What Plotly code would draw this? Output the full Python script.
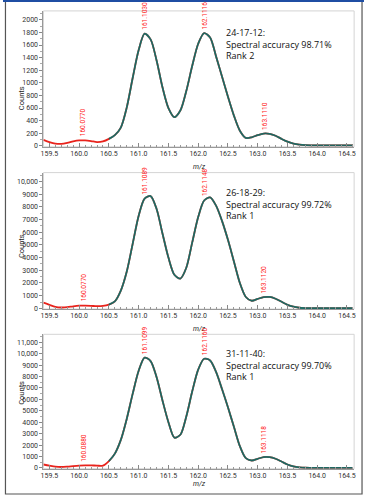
import numpy as np
import plotly.graph_objects as go

# ---------------- data ----------------
mz = [159.4, 159.5, 159.6, 159.7, 159.8, 159.9, 160.0, 160.1, 160.2, 160.3,
      160.4, 160.5, 160.6, 160.7, 160.8, 160.9, 161.0, 161.1, 161.2, 161.3,
      161.4, 161.5, 161.6, 161.7, 161.8, 161.9, 162.0, 162.1, 162.2, 162.3,
      162.4, 162.5, 162.6, 162.7, 162.8, 162.9, 163.0, 163.1, 163.2, 163.3,
      163.4, 163.5, 163.6, 163.7, 163.8, 163.9, 164.0, 164.1, 164.2, 164.3,
      164.4, 164.5, 164.6]

counts_24_17_12 = [95, 60, 35, 30, 45, 70, 85, 85, 75, 60,
                   70, 110, 170, 290, 610, 1080, 1520, 1780, 1690, 1360,
                   930, 600, 455, 560, 870, 1270, 1620, 1790, 1720, 1420,
                   1100, 780, 480, 240, 125, 135, 170, 195, 190, 160,
                   110, 65, 35, 18, 10, 8, 8, 8, 8, 8,
                   8, 8, 8]

counts_26_18_29 = [450, 280, 120, 70, 90, 160, 210, 220, 200, 170,
                   190, 300, 550, 1400, 2900, 5100, 7300, 8650, 8850, 7850,
                   5900, 4000, 2650, 2350, 3200, 5200, 7200, 8500, 8750, 8100,
                   6900, 5400, 3700, 2000, 900, 600, 750, 880, 900, 760,
                   520, 280, 130, 50, 20, 10, 10, 10, 10, 10,
                   10, 10, 10]

counts_31_11_40 = [300, 200, 110, 80, 110, 160, 200, 220, 220, 200,
                   200, 600, 1250, 2450, 4300, 6500, 8500, 9650, 9350, 7950,
                   5900, 4000, 2650, 2900, 4500, 6700, 8600, 9550, 9400, 8400,
                   6900, 5300, 3600, 1900, 850, 650, 800, 950, 940, 800,
                   560, 300, 130, 50, 15, 10, 10, 10, 10, 10,
                   10, 10, 10]

sample_ids = ["24-17-12:", "26-18-29:", "31-11-40:"]
spectral_accuracy = ["98.71%", "99.72%", "99.70%"]
ranks = ["2", "1", "1"]

peak_labels_24_17_12 = ["160.0770", "161.1030", "162.1116", "163.1110"]
peak_labels_26_18_29 = ["160.0770", "161.1089", "162.1148", "163.1120"]
peak_labels_31_11_40 = ["160.0880", "161.1099", "162.1160", "163.1118"]

x_tick_vals = [159.5, 160.0, 160.5, 161.0, 161.5, 162.0, 162.5, 163.0, 163.5, 164.0, 164.5]
x_tick_text = ["159.5", "160.0", "160.5", "161.0", "161.5", "162.0", "162.5",
               "163.0", "163.5", "164.0", "164.5"]

y_tick_vals_1 = [0, 200, 400, 600, 800, 1000, 1200, 1400, 1600, 1800, 2000]
y_tick_text_1 = ["0", "200", "400", "600", "800", "1000", "1200", "1400", "1600", "1800", "2000"]
y_tick_vals_2 = [0, 1000, 2000, 3000, 4000, 5000, 6000, 7000, 8000, 9000, 10000]
y_tick_text_2 = ["0", "1000", "2000", "3000", "4000", "5000", "6000", "7000", "8000", "9000", "10,000"]
y_tick_vals_3 = [0, 1000, 2000, 3000, 4000, 5000, 6000, 7000, 8000, 9000, 10000, 11000]
y_tick_text_3 = ["0", "1000", "2000", "3000", "4000", "5000", "6000", "7000", "8000", "9000",
                 "10,000", "11,000"]

# ---------------- layout helpers ----------------
W, H = 366, 500
FONT = "Roboto"
TEXT_FONT = "Open Sans"
RED = "#e8231c"
TEAL = "#23827a"

def py(px):
    return 1 - px / H

def pxx(px):
    return px / W

panels = [
    dict(counts=counts_24_17_12, labels=peak_labels_24_17_12, top=11, bottom=148,
         yr=[-16, 2142], tv=y_tick_vals_1, tt=y_tick_text_1, minor=100),
    dict(counts=counts_26_18_29, labels=peak_labels_26_18_29, top=174, bottom=311.5,
         yr=[-50, 10700], tv=y_tick_vals_2, tt=y_tick_text_2, minor=500),
    dict(counts=counts_31_11_40, labels=peak_labels_31_11_40, top=337, bottom=472.5,
         yr=[-70, 11690], tv=y_tick_vals_3, tt=y_tick_text_3, minor=500),
]

fig = go.Figure()
annotations = []
shapes = []
mz_arr = np.array(mz)

for i, p in enumerate(panels):
    n = "" if i == 0 else str(i + 1)
    xa, ya = "x" + n, "y" + n
    c = np.array(p["counts"])
    sig = mz_arr >= 160.45
    fig.add_trace(go.Scatter(x=mz, y=p["counts"], mode="lines", xaxis=xa, yaxis=ya,
                             line=dict(color=RED, width=1.8, shape="spline", smoothing=0.8),
                             hoverinfo="skip"))
    fig.add_trace(go.Scatter(x=mz_arr[sig], y=c[sig], mode="lines", xaxis=xa, yaxis=ya,
                             line=dict(color=TEAL, width=1.8, shape="spline", smoothing=0.8),
                             hoverinfo="skip"))
    fig.add_trace(go.Scatter(x=mz_arr[sig], y=c[sig], mode="lines", xaxis=xa, yaxis=ya,
                             line=dict(color="#1a1a1a", width=0.7, shape="spline", smoothing=0.8),
                             opacity=0.5, hoverinfo="skip"))

    dom_y = [py(p["bottom"]), py(p["top"])]
    fig.update_layout(**{
        "xaxis" + n: dict(domain=[pxx(41), pxx(356)], range=[159.4, 164.62], anchor=ya,
                          tickvals=x_tick_vals, ticktext=x_tick_text, ticks="inside",
                          ticklen=4, tickwidth=1, tickcolor="#888",
                          minor=dict(dtick=0.1, tick0=159.5, ticks="inside", ticklen=2,
                                     tickcolor="#999"),
                          showline=True, linecolor="#999", linewidth=1, showgrid=False,
                          zeroline=False, tickfont=dict(family=FONT, size=7, color="#333")),
        "yaxis" + n: dict(domain=dom_y, range=p["yr"], anchor=xa, tickvals=p["tv"],
                          ticktext=p["tt"], ticks="outside", ticklen=3, tickcolor="#888",
                          minor=dict(dtick=p["minor"], ticks="outside", ticklen=2,
                                     tickcolor="#aaa"),
                          showline=True, linecolor="#999", linewidth=1, showgrid=False,
                          zeroline=False, tickfont=dict(family=FONT, size=7, color="#333")),
    })
    # light frame of the plot area
    shapes.append(dict(type="rect", xref=xa + " domain", yref=ya + " domain",
                       x0=0, x1=1, y0=0, y1=1, line=dict(color="#d4d4d4", width=1),
                       layer="below"))
    # y title
    annotations.append(dict(text="Counts", x=pxx(12), y=py((p["top"] + p["bottom"]) / 2 + 5),
                            xref="paper", yref="paper", showarrow=False, textangle=-90,
                            font=dict(family=FONT, size=7.5, color="#222")))
    # x title
    annotations.append(dict(text="<i>m/z</i>", x=pxx(199), y=py(p["bottom"] + 20.5),
                            xref="paper", yref="paper", showarrow=False, borderpad=0,
                            font=dict(family=FONT, size=7, color="#222")))
    # info text
    annotations.append(dict(text=f"{sample_ids[i]}<br>Spectral accuracy {spectral_accuracy[i]}<br>Rank {ranks[i]}",
                            x=pxx(225), y=py(p["top"] + (14 if i == 0 else 12)),
                            xref="paper", yref="paper", xanchor="left", yanchor="top",
                            align="left", showarrow=False, borderpad=0,
                            font=dict(family=TEXT_FONT, size=9, color="#111")))
    # peak labels
    for lbl in p["labels"]:
        xv = float(lbl)
        yv = float(np.interp(xv, mz, p["counts"]))
        annotations.append(dict(text=lbl, x=xv, y=yv, xref=xa, yref=ya, showarrow=False,
                                textangle=-90, xanchor="center", yanchor="bottom", yshift=2,
                                font=dict(family=FONT, size=6.5, color="#ff2020")))

# outer frame
shapes.append(dict(type="rect", xref="paper", yref="paper", x0=pxx(2.5), x1=pxx(364),
                   y0=py(498), y1=py(1), line=dict(color="#555", width=1.2)))
shapes.append(dict(type="line", xref="paper", yref="paper", x0=0, x1=1, y0=py(1), y1=py(1),
                   line=dict(color="#1f4ea3", width=2)))

fig.update_layout(width=W, height=H, autosize=False, margin=dict(l=0, r=0, t=0, b=0),
                  paper_bgcolor="white", plot_bgcolor="white", showlegend=False,
                  annotations=annotations, shapes=shapes, hovermode=False)

fig.write_html("out.html", config={"displayModeBar": False},
               post_script="document.body.style.margin='0';document.body.style.padding='0';"
                           "document.body.style.overflow='hidden';")
